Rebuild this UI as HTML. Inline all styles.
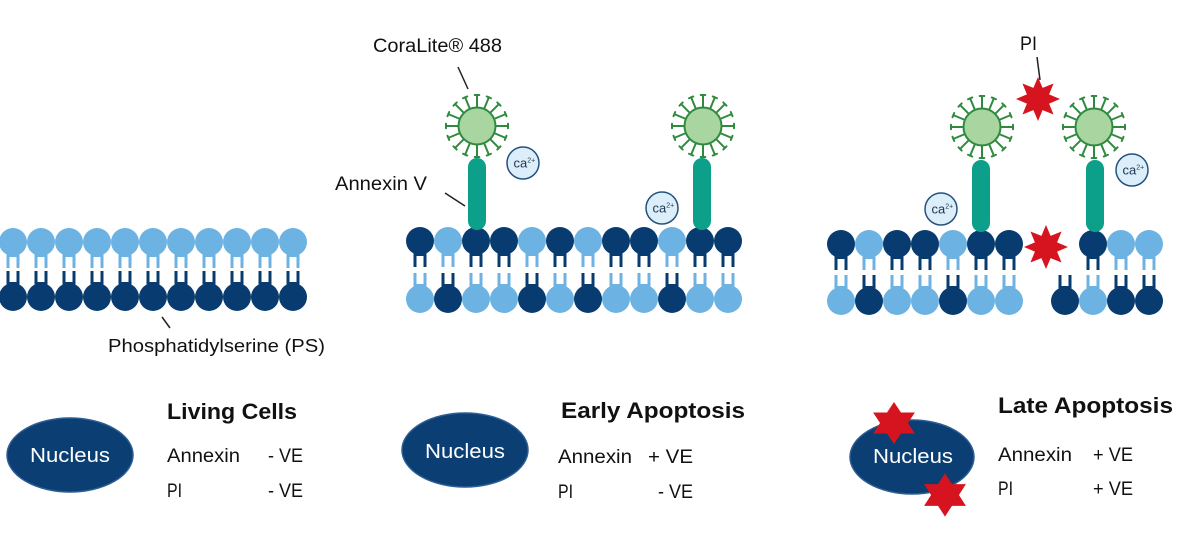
<!DOCTYPE html>
<html>
<head>
<meta charset="utf-8">
<style>
  html,body{margin:0;padding:0;background:#fff;}
  svg{display:block;}
  text{font-family:"Liberation Sans",Arial,sans-serif;fill:#111;}
</style>
</head>
<body>
<svg width="1203" height="536" viewBox="0 0 1203 536" xmlns="http://www.w3.org/2000/svg">
<defs>
  <g id="tD">
    <circle r="14" fill="#083c70"/>
    <rect x="-6.5" y="12" width="13" height="3" fill="#083c70"/>
    <rect x="-6.5" y="12" width="3" height="14" fill="#083c70"/>
    <rect x="3.5" y="12" width="3" height="14" fill="#083c70"/>
  </g>
  <g id="tL">
    <circle r="14" fill="#6cb3e3"/>
    <rect x="-6.5" y="12" width="13" height="3" fill="#6cb3e3"/>
    <rect x="-6.5" y="12" width="3" height="14" fill="#6cb3e3"/>
    <rect x="3.5" y="12" width="3" height="14" fill="#6cb3e3"/>
  </g>
  <g id="bD">
    <circle r="14" fill="#083c70"/>
    <rect x="-6.5" y="-15" width="13" height="3" fill="#083c70"/>
    <rect x="-6.5" y="-26" width="3" height="14" fill="#083c70"/>
    <rect x="3.5" y="-26" width="3" height="14" fill="#083c70"/>
  </g>
  <g id="bL">
    <circle r="14" fill="#6cb3e3"/>
    <rect x="-6.5" y="-15" width="13" height="3" fill="#6cb3e3"/>
    <rect x="-6.5" y="-26" width="3" height="14" fill="#6cb3e3"/>
    <rect x="3.5" y="-26" width="3" height="14" fill="#6cb3e3"/>
  </g>
  <g id="sp" stroke="#2f8a3f" stroke-width="2" stroke-linecap="round">
    <line x1="18" y1="0" x2="31" y2="0"/>
    <line x1="31" y1="-2.3" x2="31" y2="2.3"/>
  </g>
  <g id="fl">
    <use href="#sp" transform="rotate(0)"/>
    <use href="#sp" transform="rotate(22.5)"/>
    <use href="#sp" transform="rotate(45)"/>
    <use href="#sp" transform="rotate(67.5)"/>
    <use href="#sp" transform="rotate(90)"/>
    <use href="#sp" transform="rotate(112.5)"/>
    <use href="#sp" transform="rotate(135)"/>
    <use href="#sp" transform="rotate(157.5)"/>
    <use href="#sp" transform="rotate(180)"/>
    <use href="#sp" transform="rotate(202.5)"/>
    <use href="#sp" transform="rotate(225)"/>
    <use href="#sp" transform="rotate(247.5)"/>
    <use href="#sp" transform="rotate(270)"/>
    <use href="#sp" transform="rotate(292.5)"/>
    <use href="#sp" transform="rotate(315)"/>
    <use href="#sp" transform="rotate(337.5)"/>
    <circle r="18.5" fill="#a8d5a0" stroke="#2f8a3f" stroke-width="2"/>
  </g>
  <polygon id="s8" fill="#d6141f" points="0,-22 4.59,-11.09 15.56,-15.56 11.09,-4.59 22,0 11.09,4.59 15.56,15.56 4.59,11.09 0,22 -4.59,11.09 -15.56,15.56 -11.09,4.59 -22,0 -11.09,-4.59 -15.56,-15.56 -4.59,-11.09"/>
  <polygon id="s6" fill="#d6141f" points="0,-21 6.06,-10.5 18.19,-10.5 12.12,0 18.19,10.5 6.06,10.5 0,21 -6.06,10.5 -18.19,10.5 -12.12,0 -18.19,-10.5 -6.06,-10.5"/>
  <g id="ca">
    <circle r="16" fill="#dbeefa" stroke="#24527f" stroke-width="1.5"/>
    <text x="-9.5" y="4.5" font-size="13" style="fill:#1c3550">ca<tspan font-size="7" dy="-5">2+</tspan></text>
  </g>
</defs>

<!-- ===== LEFT MEMBRANE ===== -->
<g>
  <use href="#tL" x="13" y="242"/><use href="#tL" x="41" y="242"/><use href="#tL" x="69" y="242"/>
  <use href="#tL" x="97" y="242"/><use href="#tL" x="125" y="242"/><use href="#tL" x="153" y="242"/>
  <use href="#tL" x="181" y="242"/><use href="#tL" x="209" y="242"/><use href="#tL" x="237" y="242"/>
  <use href="#tL" x="265" y="242"/><use href="#tL" x="293" y="242"/>
  <use href="#bD" x="13" y="297"/><use href="#bD" x="41" y="297"/><use href="#bD" x="69" y="297"/>
  <use href="#bD" x="97" y="297"/><use href="#bD" x="125" y="297"/><use href="#bD" x="153" y="297"/>
  <use href="#bD" x="181" y="297"/><use href="#bD" x="209" y="297"/><use href="#bD" x="237" y="297"/>
  <use href="#bD" x="265" y="297"/><use href="#bD" x="293" y="297"/>
</g>
<line x1="162" y1="317" x2="170" y2="328" stroke="#222" stroke-width="1.5"/>
<text x="108" y="352" font-size="18" textLength="217" lengthAdjust="spacingAndGlyphs">Phosphatidylserine (PS)</text>

<!-- ===== MIDDLE ===== -->
<g>
  <use href="#tD" x="420" y="241"/><use href="#tL" x="448" y="241"/><use href="#tD" x="476" y="241"/>
  <use href="#tD" x="504" y="241"/><use href="#tL" x="532" y="241"/><use href="#tD" x="560" y="241"/>
  <use href="#tL" x="588" y="241"/><use href="#tD" x="616" y="241"/><use href="#tD" x="644" y="241"/>
  <use href="#tL" x="672" y="241"/><use href="#tD" x="700" y="241"/><use href="#tD" x="728" y="241"/>
  <use href="#bL" x="420" y="299"/><use href="#bD" x="448" y="299"/><use href="#bL" x="476" y="299"/>
  <use href="#bL" x="504" y="299"/><use href="#bD" x="532" y="299"/><use href="#bL" x="560" y="299"/>
  <use href="#bD" x="588" y="299"/><use href="#bL" x="616" y="299"/><use href="#bL" x="644" y="299"/>
  <use href="#bD" x="672" y="299"/><use href="#bL" x="700" y="299"/><use href="#bL" x="728" y="299"/>
</g>
<rect x="468" y="158" width="18" height="72" rx="9" fill="#0ca08b"/>
<use href="#fl" x="477" y="126"/>
<rect x="693" y="158" width="18" height="72" rx="9" fill="#0ca08b"/>
<use href="#fl" x="703" y="126"/>
<use href="#ca" x="523" y="163"/>
<use href="#ca" x="662" y="208"/>
<line x1="458" y1="67" x2="468" y2="89" stroke="#222" stroke-width="1.5"/>
<text x="373" y="52" font-size="19" textLength="129" lengthAdjust="spacingAndGlyphs">CoraLite® 488</text>
<line x1="445" y1="193" x2="465" y2="206" stroke="#222" stroke-width="1.5"/>
<text x="335" y="190" font-size="19" textLength="92" lengthAdjust="spacingAndGlyphs">Annexin V</text>

<!-- ===== RIGHT ===== -->
<g>
  <use href="#tD" x="841" y="244"/><use href="#tL" x="869" y="244"/><use href="#tD" x="897" y="244"/>
  <use href="#tD" x="925" y="244"/><use href="#tL" x="953" y="244"/><use href="#tD" x="981" y="244"/>
  <use href="#tD" x="1009" y="244"/>
  <use href="#tD" x="1093" y="244"/><use href="#tL" x="1121" y="244"/><use href="#tL" x="1149" y="244"/>
  <use href="#bL" x="841" y="301"/><use href="#bD" x="869" y="301"/><use href="#bL" x="897" y="301"/>
  <use href="#bL" x="925" y="301"/><use href="#bD" x="953" y="301"/><use href="#bL" x="981" y="301"/>
  <use href="#bL" x="1009" y="301"/>
  <use href="#bD" x="1065" y="301"/><use href="#bL" x="1093" y="301"/><use href="#bD" x="1121" y="301"/>
  <use href="#bD" x="1149" y="301"/>
</g>
<use href="#s8" x="1046" y="247"/>
<rect x="972" y="160" width="18" height="72" rx="9" fill="#0ca08b"/>
<use href="#fl" x="982" y="127"/>
<rect x="1086" y="160" width="18" height="72" rx="9" fill="#0ca08b"/>
<use href="#fl" x="1094" y="127"/>
<use href="#ca" x="941" y="209"/>
<use href="#ca" x="1132" y="170"/>
<use href="#s8" x="1038" y="99"/>
<line x1="1037" y1="57" x2="1040" y2="80" stroke="#222" stroke-width="1.5"/>
<text x="1020" y="50" font-size="19" textLength="17" lengthAdjust="spacingAndGlyphs">PI</text>

<!-- ===== BOTTOM LEGENDS ===== -->
<ellipse cx="70" cy="455" rx="63" ry="37" fill="#0b3e73" stroke="#2c5d93" stroke-width="1.5"/>
<text x="70" y="462" font-size="20" text-anchor="middle" style="fill:#fff" textLength="80" lengthAdjust="spacingAndGlyphs">Nucleus</text>
<text x="167" y="419" font-size="22" font-weight="bold" textLength="130" lengthAdjust="spacingAndGlyphs">Living Cells</text>
<text x="167" y="462" font-size="19" textLength="73" lengthAdjust="spacingAndGlyphs">Annexin</text>
<text x="268" y="462" font-size="19" textLength="35" lengthAdjust="spacingAndGlyphs">- VE</text>
<text x="167" y="497" font-size="19" textLength="15" lengthAdjust="spacingAndGlyphs">PI</text>
<text x="268" y="497" font-size="19" textLength="35" lengthAdjust="spacingAndGlyphs">- VE</text>

<ellipse cx="465" cy="450" rx="63" ry="37" fill="#0b3e73" stroke="#2c5d93" stroke-width="1.5"/>
<text x="465" y="458" font-size="20" text-anchor="middle" style="fill:#fff" textLength="80" lengthAdjust="spacingAndGlyphs">Nucleus</text>
<text x="561" y="418" font-size="22" font-weight="bold" textLength="184" lengthAdjust="spacingAndGlyphs">Early Apoptosis</text>
<text x="558" y="463" font-size="19" textLength="74" lengthAdjust="spacingAndGlyphs">Annexin</text>
<text x="648" y="463" font-size="19" textLength="45" lengthAdjust="spacingAndGlyphs">+ VE</text>
<text x="558" y="498" font-size="19" textLength="15" lengthAdjust="spacingAndGlyphs">PI</text>
<text x="658" y="498" font-size="19" textLength="35" lengthAdjust="spacingAndGlyphs">- VE</text>

<ellipse cx="912" cy="457" rx="62" ry="37" fill="#0b3e73" stroke="#2c5d93" stroke-width="1.5"/>
<text x="913" y="463" font-size="20" text-anchor="middle" style="fill:#fff" textLength="80" lengthAdjust="spacingAndGlyphs">Nucleus</text>
<use href="#s6" transform="translate(894,423) scale(1.15,1)"/>
<use href="#s6" transform="translate(945,495) scale(1.15,1.03)"/>
<text x="998" y="413" font-size="22" font-weight="bold" textLength="175" lengthAdjust="spacingAndGlyphs">Late Apoptosis</text>
<text x="998" y="461" font-size="19" textLength="74" lengthAdjust="spacingAndGlyphs">Annexin</text>
<text x="1093" y="461" font-size="19" textLength="40" lengthAdjust="spacingAndGlyphs">+ VE</text>
<text x="998" y="495" font-size="19" textLength="15" lengthAdjust="spacingAndGlyphs">PI</text>
<text x="1093" y="495" font-size="19" textLength="40" lengthAdjust="spacingAndGlyphs">+ VE</text>
</svg>
</body>
</html>
